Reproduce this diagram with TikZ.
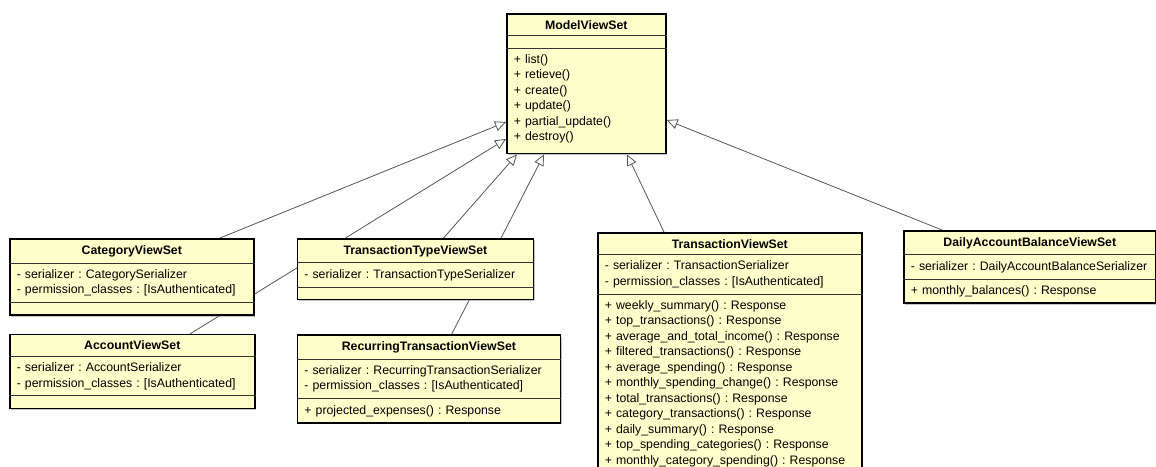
\documentclass[tikz,border=0pt]{standalone}
\usepackage{fontspec}
\setmainfont{Liberation Sans}
\usetikzlibrary{arrows.meta,shapes.multipart,positioning,shadows}
\definecolor{classfill}{RGB}{255,255,204}
\definecolor{linkgray}{RGB}{85,85,85}
\pgfdeclarelayer{background}
\pgfsetlayers{background,main}
\tikzset{
    viewset/.style={draw, line width=1.6pt, fill=classfill, rectangle split, rectangle split parts=3,
        rectangle split draw splits=false, align=left, inner xsep=7pt, inner ysep=5.5pt,
        font=\fontsize{12.3}{15.5}\selectfont\frenchspacing,
        drop shadow={shadow xshift=1.5pt, shadow yshift=-1.5pt, fill=black!45}},
    compartment/.style={draw=black!80, line width=0.8pt},
    generalization/.style={-{Triangle[length=11pt, width=10pt, fill=white]}, draw=linkgray, line width=0.8pt}
}
\newcommand{\classtitle}[1]{\null\hfill\textbf{#1}\hfill\null}

\begin{document}
\begin{tikzpicture}[x=1pt, y=1pt]
        \useasboundingbox (0,0) rectangle (1156,-466);
        \clip (0,0) rectangle (1156,-466);

        \node[viewset, text width=145pt, anchor=north west] (model) at (506,-13) {\classtitle{ModelViewSet}
            \nodepart{second}
            \nodepart{third}+ list()\\+ retieve()\\+ create()\\+ update()\\+ partial\_update()\\+ destroy()\vspace{4pt}};

        \node[viewset, text width=230pt, anchor=north west] (cat) at (9,-238) {\classtitle{CategoryViewSet}
            \nodepart{second}- serializer : CategorySerializer\\- permission\_classes : [IsAuthenticated]
            \nodepart{third}};
        \node[viewset, text width=231pt, below=18pt of cat.south west, anchor=north west] (acc) {\classtitle{AccountViewSet}
            \nodepart{second}- serializer : AccountSerializer\\- permission\_classes : [IsAuthenticated]
            \nodepart{third}};
        \node[viewset, text width=222pt, right=42pt of cat.north east, anchor=north west] (ttype) {\classtitle{TransactionTypeViewSet}
            \nodepart{second}- serializer : TransactionTypeSerializer
            \nodepart{third}};
        \node[viewset, text width=249pt, below=34pt of ttype.south west, anchor=north west] (rec) {\classtitle{RecurringTransactionViewSet}
            \nodepart{second}- serializer : RecurringTransactionSerializer\\- permission\_classes : [IsAuthenticated]
            \nodepart{third}+ projected\_expenses() : Response};
        \node[viewset, text width=250pt, anchor=north west] (trans) at (597,-232) {\classtitle{TransactionViewSet}
            \nodepart{second}- serializer : TransactionSerializer\\- permission\_classes : [IsAuthenticated]
            \nodepart{third}+ weekly\_summary() : Response\\+ top\_transactions() : Response\\+ average\_and\_total\_income() : Response\\+ filtered\_transactions() : Response\\+ average\_spending() : Response\\+ monthly\_spending\_change() : Response\\+ total\_transactions() : Response\\+ category\_transactions() : Response\\+ daily\_summary() : Response\\+ top\_spending\_categories() : Response\\+ monthly\_category\_spending() : Response};
        \node[viewset, text width=238pt, anchor=north west] (daily) at (903,-230) {\classtitle{DailyAccountBalanceViewSet}
            \nodepart{second}- serializer : DailyAccountBalanceSerializer
            \nodepart{third}+ monthly\_balances() : Response};

        % thin compartment lines
        \foreach \cls in {model,cat,acc,ttype,rec,trans,daily} {
            \draw[compartment] (\cls.text split west) -- (\cls.text split east);
            \draw[compartment] (\cls.second split west) -- (\cls.second split east);
        }

        % generalizations, behind the classes
        \begin{pgfonlayer}{background}
            \draw[generalization] ([xshift=211pt]cat.north west) -- ([yshift=-109pt]model.north west);
            \draw[generalization] ([xshift=181pt]acc.north west) -- ([yshift=-126pt]model.north west);
            \draw[generalization] ([xshift=147pt]ttype.north west) -- ([xshift=11pt]model.south west);
            \draw[generalization] ([xshift=155pt]rec.north west) -- ([xshift=38pt]model.south west);
            \draw[generalization] ([xshift=67pt]trans.north west) -- ([xshift=121pt]model.south west);
            \draw[generalization] ([xshift=39pt]daily.north west) -- ([yshift=-107pt]model.north east);
        \end{pgfonlayer}
    \end{tikzpicture}
\end{document}
